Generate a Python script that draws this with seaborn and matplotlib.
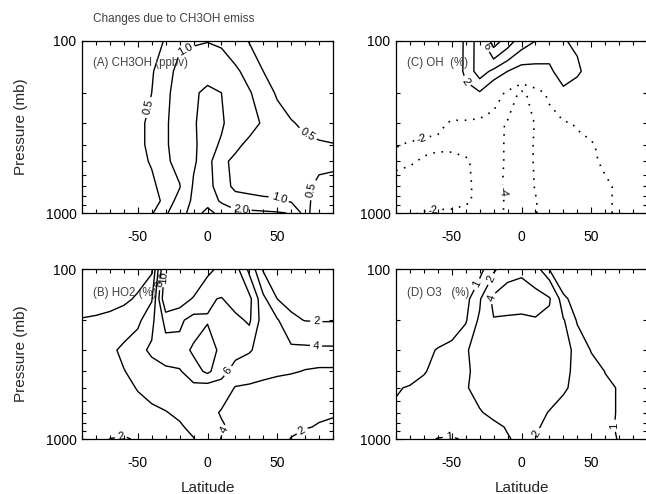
import numpy as np
import matplotlib
matplotlib.use("Agg")
import matplotlib.pyplot as plt
import seaborn as sns
from matplotlib.ticker import FixedLocator, MultipleLocator, NullFormatter

# grid: latitude (deg) and pressure (mb)
lats = [-90, -80, -70, -60, -50, -40, -30, -20, -10, 0, 10, 20, 30, 40, 50, 60, 70, 80, 90]
pres = [100, 150, 200, 300, 400, 500, 700, 850, 1000]

# (A) CH3OH change, ppbv (rows follow pres, columns follow lats)
ch3oh = [
    [0.2, 0.2, 0.2, 0.25, 0.3, 0.4, 0.52, 0.9, 0.95, 0.98, 0.9, 0.7, 0.48, 0.4, 0.35, 0.3, 0.3, 0.3, 0.3],
    [0.2, 0.2, 0.22, 0.28, 0.35, 0.46, 0.75, 1.2, 1.3, 1.5, 1.4, 1.1, 0.8, 0.5, 0.4, 0.35, 0.3, 0.3, 0.3],
    [0.2, 0.22, 0.25, 0.3, 0.38, 0.5, 0.85, 1.3, 1.8, 2.3, 2.0, 1.5, 1.05, 0.7, 0.45, 0.38, 0.33, 0.3, 0.3],
    [0.2, 0.25, 0.3, 0.38, 0.45, 0.55, 0.9, 1.4, 1.9, 2.4, 2.1, 1.6, 1.15, 0.95, 0.7, 0.52, 0.45, 0.4, 0.38],
    [0.3, 0.32, 0.35, 0.4, 0.45, 0.55, 0.9, 1.4, 1.9, 2.3, 1.9, 1.1, 0.9, 0.8, 0.7, 0.62, 0.56, 0.53, 0.51],
    [0.3, 0.32, 0.35, 0.4, 0.44, 0.52, 0.85, 1.3, 1.9, 2.4, 1.1, 0.9, 0.85, 0.8, 0.75, 0.7, 0.62, 0.55, 0.53],
    [0.3, 0.33, 0.37, 0.4, 0.42, 0.45, 0.6, 0.95, 2.1, 2.6, 1.1, 0.95, 0.9, 0.9, 0.85, 0.75, 0.55, 0.45, 0.45],
    [0.3, 0.33, 0.37, 0.4, 0.42, 0.42, 0.55, 1.3, 2.2, 2.8, 1.8, 1.1, 1.1, 1.05, 1.05, 0.9, 0.6, 0.35, 0.4],
    [0.3, 0.33, 0.37, 0.4, 0.42, 0.45, 0.9, 1.5, 2.5, 5.0, 3.0, 2.4, 2.3, 2.2, 2.1, 1.95, 0.6, 0.3, 0.35],
]

# (C) OH change, %
oh = [
    [-1.0, -1.0, -1.0, -0.8, -0.2, 2.5, 5.0, 9.0, 7.0, 5.0, 4.0, 3.0, 2.2, 1.5, 0.5, -0.5, -1.0, -1.0, -1.0],
    [-1.1, -1.1, -1.1, -1.0, -0.3, 2.6, 5.0, 3.5, 2.0, 1.0, 1.2, 1.6, 3.0, 2.6, 0.5, -1.0, -1.0, -1.2, -1.3],
    [-1.2, -1.2, -1.3, -1.3, -1.2, 1.2, 1.8, -0.5, -2.5, -4.5, -3.0, -1.5, 1.5, 0.0, -1.0, -1.2, -1.2, -1.3, -1.3],
    [-1.3, -1.4, -1.6, -1.8, -2.1, -2.4, -2.8, -3.3, -4.2, -5.0, -3.9, -3.0, -2.3, -1.8, -1.6, -1.4, -1.3, -1.3, -1.3],
    [-1.95, -2.1, -2.2, -2.2, -2.3, -2.5, -2.8, -3.2, -4.3, -5.0, -3.8, -3.2, -2.8, -2.5, -2.1, -1.7, -1.5, -1.4, -1.4],
    [-2.2, -2.1, -1.9, -1.7, -1.6, -1.8, -2.5, -3.2, -4.3, -5.0, -3.8, -3.2, -2.8, -2.5, -2.2, -1.8, -1.5, -1.4, -1.4],
    [-1.6, -1.5, -1.5, -1.4, -1.4, -1.7, -2.4, -3.3, -4.4, -5.0, -3.9, -3.0, -2.6, -2.4, -2.3, -2.2, -1.8, -1.6, -1.5],
    [-1.5, -1.4, -1.4, -1.3, -1.4, -1.8, -2.3, -3.2, -4.3, -5.0, -4.1, -3.1, -2.6, -2.4, -2.3, -2.2, -1.8, -1.6, -1.5],
    [-1.8, -1.9, -2.1, -2.3, -2.3, -2.4, -2.6, -3.3, -4.3, -5.0, -4.1, -3.1, -2.6, -2.4, -2.3, -2.1, -1.9, -1.7, -1.6],
]

# (B) HO2 change, %
ho2 = [
    [1.0, 1.0, 1.1, 1.2, 1.4, 1.7, 11.0, 12.0, 12.0, 10.5, 9.5, 8.8, 5.5, 1.8, 1.5, 1.3, 1.2, 1.2, 1.2],
    [1.3, 1.4, 1.5, 1.7, 2.2, 3.8, 12.0, 11.0, 9.8, 8.2, 7.9, 8.8, 8.6, 4.5, 2.0, 1.6, 1.5, 1.4, 1.4],
    [2.1, 2.2, 2.4, 2.8, 3.5, 5.5, 8.6, 8.4, 7.2, 7.9, 7.0, 7.5, 8.3, 5.0, 4.2, 2.3, 1.95, 1.9, 1.9],
    [2.8, 3.0, 3.5, 4.5, 5.5, 6.3, 7.0, 7.2, 8.3, 8.8, 7.6, 6.8, 6.2, 5.2, 4.8, 4.5, 4.5, 4.4, 4.4],
    [3.0, 3.2, 3.5, 3.9, 4.8, 5.3, 5.6, 5.8, 7.2, 8.4, 6.8, 5.0, 4.6, 4.4, 4.2, 4.1, 3.95, 3.9, 3.9],
    [2.8, 3.0, 3.2, 3.5, 4.1, 4.6, 5.0, 5.3, 5.4, 5.0, 5.0, 3.9, 3.8, 3.6, 3.5, 3.4, 3.3, 3.2, 3.1],
    [2.8, 2.9, 3.0, 3.1, 3.3, 3.6, 3.9, 4.4, 4.8, 4.8, 3.8, 3.5, 3.0, 2.8, 2.6, 2.4, 2.2, 2.1, 2.05],
    [2.6, 2.6, 2.5, 2.3, 2.6, 3.0, 3.5, 3.7, 4.6, 5.0, 4.3, 3.4, 2.8, 2.5, 2.3, 2.1, 2.05, 1.95, 1.9],
    [2.4, 2.3, 1.98, 1.9, 2.1, 2.6, 3.2, 3.7, 3.9, 5.5, 3.9, 3.2, 2.7, 2.4, 2.2, 1.98, 1.7, 1.6, 1.7],
]

# (D) O3 change, %
o3 = [
    [0.2, 0.2, 0.25, 0.3, 0.4, 0.5, 0.7, 1.7, 3.0, 3.5, 2.5, 0.95, 0.6, 0.5, 0.4, 0.3, 0.3, 0.3, 0.3],
    [0.3, 0.3, 0.35, 0.4, 0.5, 0.7, 1.8, 4.5, 5.5, 5.5, 5.0, 4.2, 1.1, 0.8, 0.6, 0.5, 0.4, 0.4, 0.4],
    [0.4, 0.4, 0.45, 0.5, 0.65, 0.9, 2.2, 3.9, 3.5, 3.3, 3.8, 3.5, 2.1, 0.9, 0.7, 0.6, 0.5, 0.5, 0.5],
    [0.5, 0.6, 0.8, 1.05, 1.2, 1.9, 2.4, 2.8, 2.8, 2.8, 2.8, 2.7, 2.4, 1.7, 0.95, 0.8, 0.6, 0.5, 0.5],
    [0.6, 0.75, 0.95, 1.2, 1.4, 1.8, 2.4, 2.6, 2.6, 2.6, 2.6, 2.5, 2.2, 1.8, 1.4, 0.98, 0.9, 0.7, 0.6],
    [0.95, 1.05, 1.2, 1.3, 1.5, 1.9, 2.4, 2.5, 2.5, 2.5, 2.5, 2.4, 2.1, 1.8, 1.4, 1.15, 0.95, 0.8, 0.7],
    [1.1, 1.15, 1.2, 1.3, 1.4, 1.6, 1.9, 2.3, 2.6, 2.6, 2.3, 1.95, 1.7, 1.5, 1.3, 1.15, 0.95, 0.85, 0.8],
    [1.1, 1.15, 1.2, 1.2, 1.2, 1.3, 1.5, 1.7, 2.1, 2.4, 2.1, 1.8, 1.6, 1.45, 1.3, 1.1, 0.95, 0.85, 0.8],
    [1.1, 1.1, 1.1, 0.98, 0.95, 1.05, 1.3, 1.6, 1.9, 2.3, 1.95, 1.7, 1.5, 1.4, 1.25, 1.1, 0.98, 0.85, 0.8],
]

# contour levels and where their labels sit (level, lat, pressure)
levels_a = [0.5, 1.0, 2.0, 4.0]
labels_a = [(0.5, -43, 242), (1.0, -16, 113), (0.5, 72, 343), (1.0, 52, 808),
            (0.5, 77, 735), (2.0, 24, 955)]
levels_c = [-4, -2, 2, 4, 6, 8]
labels_c = [(2, -40, 172), (6, -29, 112), (-2, -73, 330), (-4, -10, 750), (-2, -63, 985)]
levels_b = [2, 4, 6, 8, 10]
labels_b = [(2, 78, 207), (4, 78, 270), (6, 12, 383), (2, -63, 880), (4, 9, 860),
            (2, 68, 900), (8, -34, 122), (10, -30, 112)]
levels_d = [1, 2, 4]
labels_d = [(1, -30, 125), (2, -24, 112), (4, -20, 150), (2, 6, 880), (1, 64, 830),
            (1, -52, 985)]

sns.set_style("ticks")
plt.rcParams["font.family"] = ["Liberation Sans", "DejaVu Sans"]
plt.rcParams["axes.unicode_minus"] = False


def draw_field(ax, field, levels, labels, fmt):
    z = np.array(field)
    for lev in levels:
        if lev < 0:
            cs = ax.contour(lats, pres, z, levels=[lev], colors="black",
                            linewidths=1.2, linestyles="dotted")
            cs.set_linestyle((0, (1, 4)))
        else:
            cs = ax.contour(lats, pres, z, levels=[lev], colors="black",
                            linewidths=1.0, linestyles="solid")
        spots = [(x, y) for l, x, y in labels if l == lev]
        if spots:
            ax.clabel(cs, manual=spots, inline=True, inline_spacing=3,
                      fmt=fmt, fontsize=8, colors="black")


def setup_axes(ax):
    ax.set_yscale("log")
    ax.set_xlim(-90, 90)
    ax.set_ylim(1000, 100)
    ax.set_xticks([-50, 0, 50])
    ax.set_xticklabels(["-50", "0", "50"])
    ax.xaxis.set_minor_locator(MultipleLocator(10))
    ax.yaxis.set_major_locator(FixedLocator([100, 1000]))
    ax.set_yticklabels(["100", "1000"])
    ax.yaxis.set_minor_locator(FixedLocator([200, 300, 400, 500, 600, 700, 800, 900]))
    ax.yaxis.set_minor_formatter(NullFormatter())
    ax.tick_params(which="both", direction="in", top=True, right=True,
                   labelsize=10, width=0.8, colors="black")
    ax.tick_params(which="major", length=4)
    ax.tick_params(which="minor", length=3)
    ax.tick_params(axis="x", pad=12)
    ax.tick_params(axis="y", pad=4)
    for s in ax.spines.values():
        s.set_linewidth(0.9)
        s.set_color("black")


fig = plt.figure(figsize=(6.46, 4.94), dpi=100)
W, H = 646.0, 494.0
ax_a = fig.add_axes([82 / W, 1 - 213 / H, 251 / W, 172 / H])
ax_c = fig.add_axes([396 / W, 1 - 213 / H, 251 / W, 172 / H])
ax_b = fig.add_axes([82 / W, 1 - 439 / H, 251 / W, 170 / H])
ax_d = fig.add_axes([396 / W, 1 - 439 / H, 251 / W, 170 / H])

for ax in (ax_a, ax_b, ax_c, ax_d):
    setup_axes(ax)

draw_field(ax_a, ch3oh, levels_a, labels_a, "%.1f")
draw_field(ax_c, oh, levels_c, labels_c, "%d")
draw_field(ax_b, ho2, levels_b, labels_b, "%d")
draw_field(ax_d, o3, levels_d, labels_d, "%d")

panel_text = [(ax_a, "(A) CH3OH (ppbv)", 0.87), (ax_c, "(C) OH  (%)", 0.87),
              (ax_b, "(B) HO2 (%)", 0.86), (ax_d, "(D) O3   (%)", 0.86)]
for ax, txt, yy in panel_text:
    ax.text(0.045, yy, txt, transform=ax.transAxes, fontsize=8.3, color="0.25",
            va="center", ha="left")

for ax in (ax_a, ax_b):
    ax.set_ylabel("Pressure (mb)", fontsize=11, labelpad=13)
for ax in (ax_b, ax_d):
    ax.set_xlabel("Latitude", fontsize=11, labelpad=8)

fig.text(93 / W, 1 - 19 / H, "Changes due to CH3OH emiss", fontsize=8.5,
         color="0.25", va="center", ha="left")

fig.savefig("out.png", dpi=100)
plt.close(fig)
